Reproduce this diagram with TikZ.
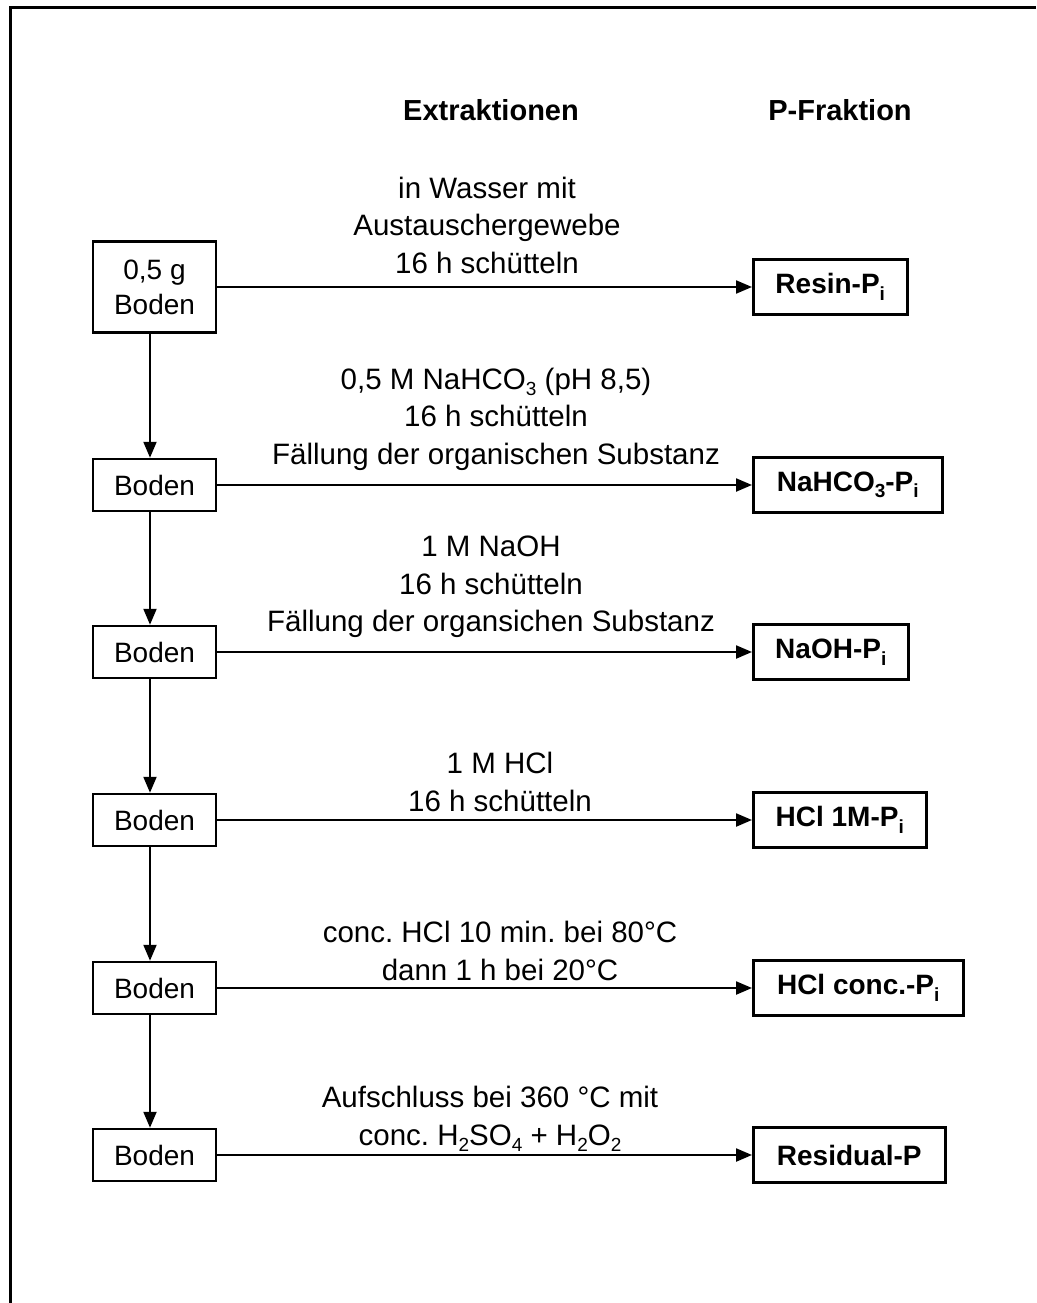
\documentclass[tikz,border=0pt]{standalone}
\usepackage{fontspec}
\setmainfont{Liberation Sans}
\usetikzlibrary{arrows.meta}
\frenchspacing
\newcommand\lsub[1]{\raisebox{-6.5pt}{\fontsize{19}{19}\selectfont #1}}
\begin{document}
\begin{tikzpicture}[x=1pt,y=-1pt,
  txt/.style={font=\fontsize{29.5}{37.5}\selectfont, align=center, inner sep=0pt},
  hdr/.style={font=\fontsize{29}{34}\selectfont\bfseries, inner sep=0pt},
  leftbox/.style={draw, line width=2.5pt, minimum width=123pt, minimum height=52pt, inner sep=0pt, font=\fontsize{28}{35}\selectfont, align=center},
  resbox/.style={draw, line width=2.5pt, minimum height=55pt, inner sep=0pt, anchor=west, font=\fontsize{28}{34}\selectfont\bfseries},
  arr/.style={line width=2.2pt, -{Triangle[length=16pt,width=13pt]}},
  frame/.style={line width=3pt}]
\useasboundingbox (0,0) rectangle (1036,1303);
% frame
\coordinate (ftl) at (10,8);
\coordinate (ftr) at (1036,8);
\coordinate (fbl) at (10,1303);
\draw[frame] (fbl) -- (ftl) -- (ftr);
% headers
\node[hdr] (h1) at (491,110) {Extraktionen};
\node[hdr] (h2) at (840,110) {P-Fraktion};
% left boxes
\node[leftbox, minimum height=91pt] (b1) at (154.5,287) {0,5 g\\Boden};
\node[leftbox] (b2) at (154.5,485) {Boden};
\node[leftbox] (b3) at (154.5,652) {Boden};
\node[leftbox] (b4) at (154.5,820) {Boden};
\node[leftbox] (b5) at (154.5,988) {Boden};
\node[leftbox] (b6) at (154.5,1155) {Boden};
% result boxes
\node[resbox, minimum width=154pt] (r1) at (752,287) {Resin-P\lsub{i}};
\node[resbox, minimum width=189pt] (r2) at (752,485) {NaHCO\lsub{3}-P\lsub{i}};
\node[resbox, minimum width=155pt] (r3) at (752,652) {NaOH-P\lsub{i}};
\node[resbox, minimum width=173pt] (r4) at (752,820) {HCl 1M-P\lsub{i}};
\node[resbox, minimum width=210pt] (r5) at (752,988) {HCl conc.-P\lsub{i}};
\node[resbox, minimum width=192pt] (r6) at (752,1155) {Residual-P};
% labels
\node[txt] (l1) at (487,225) {in Wasser mit\\Austauschergewebe\\16 h schütteln};
\node[txt] (l2) at (496,419) {0,5 M NaHCO\lsub{3} (pH 8,5)\\16 h schütteln\\Fällung der organischen Substanz};
\node[txt] (l3) at (491,587) {1 M NaOH\\16 h schütteln\\Fällung der organsichen Substanz};
\node[txt] (l4) at (500,782) {1 M HCl\\16 h schütteln};
\node[txt] (l5) at (500,951) {conc. HCl 10 min. bei 80°C\\dann 1 h bei 20°C};
\node[txt] (l6) at (490,1119) {Aufschluss bei 360 °C mit\\conc. H\lsub{2}SO\lsub{4} + H\lsub{2}O\lsub{2}};
% horizontal arrows
\foreach \i in {1,...,6} {\draw[arr] (b\i) -- (r\i);}
% vertical arrows
\foreach \i/\j in {1/2,2/3,3/4,4/5,5/6} {\draw[arr] ([xshift=-4.5pt]b\i.south) -- ([xshift=-4.5pt]b\j.north);}
\end{tikzpicture}
\end{document}
